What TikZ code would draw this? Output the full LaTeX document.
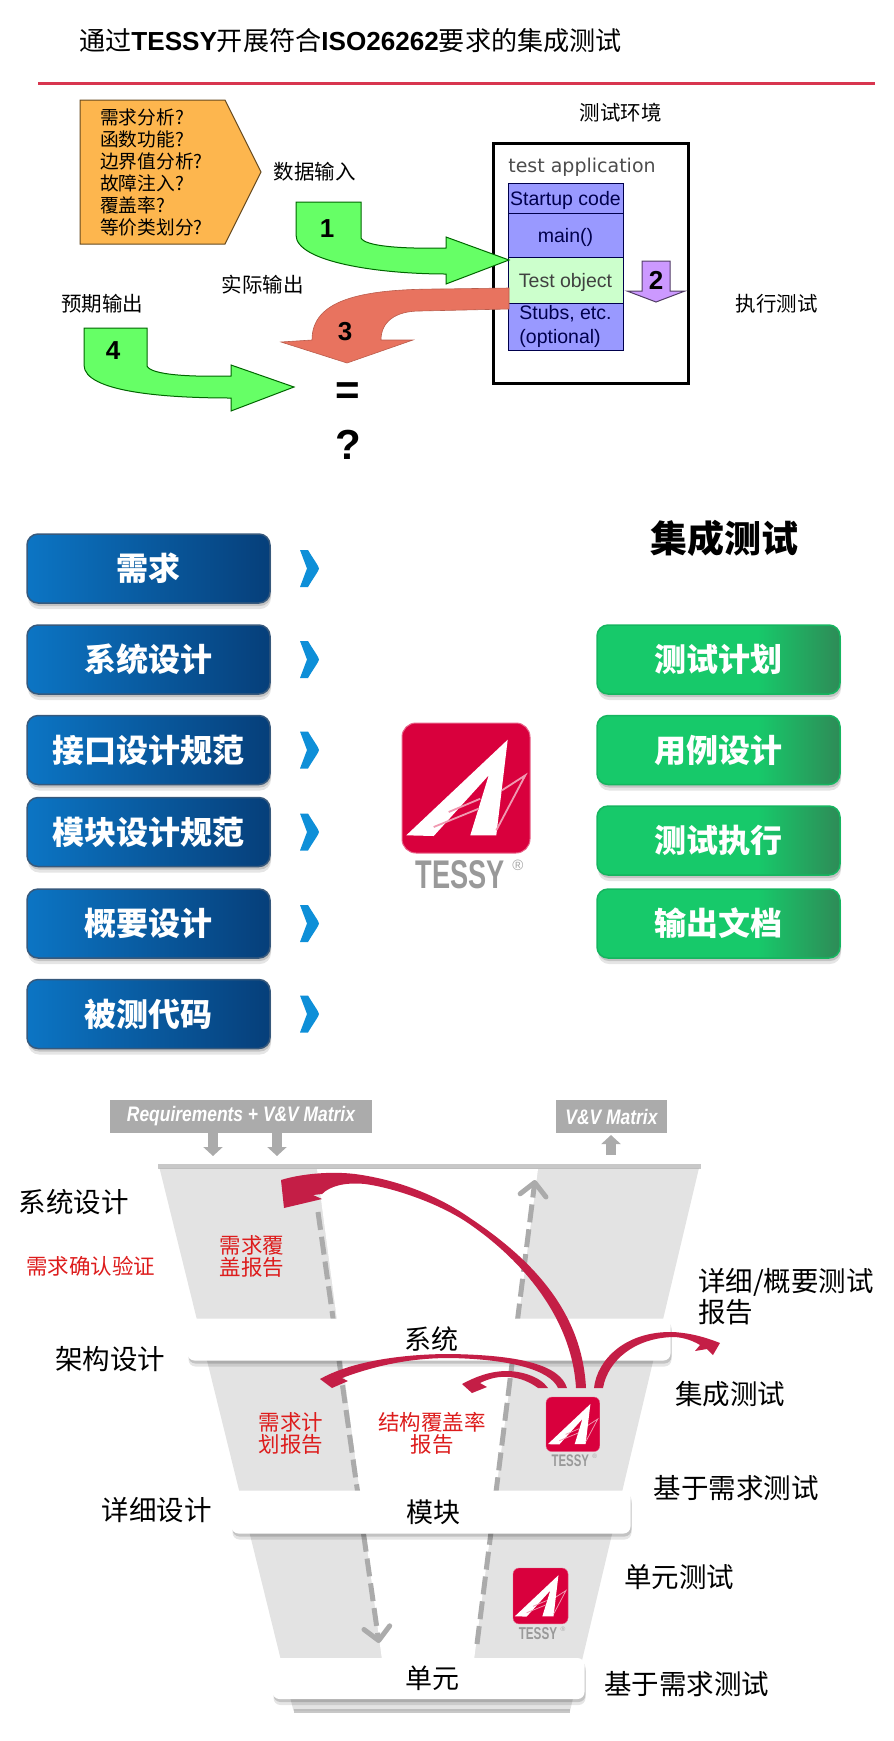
\documentclass[tikz,border=0pt]{standalone}
\usepackage{fontspec}
\setmainfont{Noto Sans CJK SC}
\newfontfamily\latinfont{Liberation Sans}
\newfontfamily\dejafont{DejaVu Sans}
\usepackage{tikz}
\usetikzlibrary{shapes.geometric}
\usetikzlibrary{arrows.meta}
\usetikzlibrary{shadows}
\definecolor{ruleRed}{HTML}{D8354F}
\definecolor{boxOrange}{HTML}{FDB64E}
\definecolor{arrowGreen}{HTML}{66FF66}
\definecolor{arrowSalmon}{HTML}{E8735F}
\definecolor{arrowViolet}{HTML}{CC99FF}
\definecolor{stackBlue}{HTML}{9999FF}
\definecolor{stackGreen}{HTML}{CCFFCC}
\definecolor{btnBlueA}{HTML}{0C75C4}
\definecolor{btnBlueB}{HTML}{063F7A}
\definecolor{btnGreenA}{HTML}{17C96A}
\definecolor{btnGreenB}{HTML}{2E8B57}
\definecolor{markBlue}{HTML}{0E8FD8}
\definecolor{funnelGrey}{HTML}{E3E3E3}
\definecolor{matrixGrey}{HTML}{ABABAB}
\definecolor{swooshRed}{HTML}{C41E46}
\definecolor{tessyRed}{HTML}{D9003D}
\definecolor{reportRed}{HTML}{DD1C1C}
\pgfdeclarehorizontalshading{greenbtn}{100bp}{color(0bp)=(btnGreenA); color(25bp)=(btnGreenA); color(58bp)=(btnGreenA); color(75bp)=(btnGreenB); color(100bp)=(btnGreenB)}
\tikzset{
	softshadow/.style={drop shadow={shadow xshift=1pt,shadow yshift=-6pt,opacity=.1,fill=black},drop shadow={shadow xshift=1pt,shadow yshift=-3pt,opacity=.15,fill=black}},
	bluebtn/.style={rectangle,rounded corners=11pt,minimum width=243pt,minimum height=69pt,draw=btnBlueB!60!gray,line width=1.5pt,left color=btnBlueA,right color=btnBlueB,softshadow,text=white,font=\fontsize{32}{32}\selectfont\bfseries},
	greenbtn/.style={rectangle,rounded corners=11pt,minimum width=243pt,minimum height=69pt,draw=btnGreenA!90!black,line width=1.5pt,shading=greenbtn,softshadow,text=white,font=\fontsize{32}{32}\selectfont\bfseries},
	stackcell/.style={rectangle,draw=black!70!blue,line width=1pt,fill=stackBlue,minimum width=115pt,text=black!70!blue,font=\latinfont\fontsize{19.5}{24}\selectfont,inner sep=0pt},
	stackline/.style={stackcell,text height=16pt,text depth=2pt},
	bigarrow/.style={draw=black!60!green,line width=1pt,fill=arrowGreen},
	digit/.style={font=\latinfont\bfseries\fontsize{26}{26}\selectfont,inner sep=0pt},
	toplabel/.style={font=\fontsize{20.5}{22}\selectfont,inner sep=0pt},
	vlabel/.style={font=\fontsize{27.5}{31}\selectfont,inner sep=0pt,align=left},
	redlabel/.style={font=\fontsize{21.5}{22}\selectfont,text=reportRed,inner sep=0pt,align=center},
	barnode/.style={rectangle,rounded corners=7pt,fill=white,softshadow,minimum height=42pt,font=\fontsize{27}{27}\selectfont},
	matrixbox/.style={rectangle,fill=matrixGrey,minimum height=33pt,text=white,font=\latinfont\bfseries\itshape\fontsize{21}{21}\selectfont,inner sep=0pt},
	matrixarrow/.style={matrixGrey,line width=10pt,-{Triangle[width=19pt,length=9pt]}},
	dashline/.style={matrixGrey,line width=5pt,dash pattern=on 18pt off 7pt,-{Straight Barb[length=13pt,width=26pt,line width=5pt,round]}},
	swoosh/.style={fill=swooshRed,draw=none},
	chevronmark/.pic={\fill[markBlue] (-9,-18.5) -- (-1,-18.5) .. controls (4,-10) and (10,-2) .. (10,0) .. controls (10,2) and (4,10) .. (-1,18.5) -- (-9,18.5) -- (-2,0) -- cycle;},
	tessylogo/.pic={
		\begin{scope}[scale=#1,transform shape]
		\draw[fill=tessyRed,draw=tessyRed!60!white,line width=#1*1pt,rounded corners=#1*14pt] (0,0) rectangle (128,130);
		\fill[white] (105.7,16.7) -- (4.3,112.3) -- (31.7,113) -- (86.7,52.3) -- (68.3,112.3) -- (94.3,112.3) -- cycle;
		\draw[tessyRed!40!white,line width=#1*1.8pt] (31.7,104) -- (76.7,85.7);
		\draw[tessyRed!40!white,line width=#1*1.8pt] (46.7,89) -- (78.3,75.7);
		\draw[tessyRed!40!white,line width=#1*1.8pt] (100,67.3) -- (123.3,52.3) -- (94.3,107.3);
		\node[text=black!40,font=\latinfont\bfseries\fontsize{40}{40}\selectfont,xscale=.68,inner sep=0pt] (-word) at (58,152) {TESSY};
		\node[text=black!35,font=\latinfont\fontsize{15}{15}\selectfont,inner sep=0pt] (-mark) at (116,142) {®};
		\end{scope}
	}
}

\begin{document}
\begin{tikzpicture}[x=1pt,y=-1pt]
	\useasboundingbox (0,0) rectangle (894,1741);
	% heading
	\node[anchor=west,inner sep=0pt,font=\fontsize{26.1}{26}\selectfont] (heading) at (79,41) {通过{\latinfont\bfseries TESSY}开展符合{\latinfont\bfseries ISO26262}要求的集成测试};
	\coordinate (ruleL) at (38,83);
	\coordinate (ruleR) at (875,83);
	\draw[ruleRed,line width=3pt] (ruleL) -- (ruleR);

	% test flow
	\draw[fill=boxOrange,draw=black!60!boxOrange,line width=1pt] (80,100) -- (225,100) -- (261,172) -- (225,244) -- (80,244) -- cycle;
	\node[anchor=west,inner sep=0pt,align=left,font=\fontsize{18.7}{22}\selectfont] (questions) at (100,172) {需求分析?\\函数功能?\\边界值分析?\\故障注入?\\覆盖率?\\等价类划分?};
	\node[toplabel] (inputlabel) at (314.5,172) {数据输入};
	\node[toplabel] (actuallabel) at (262.5,285) {实际输出};
	\node[toplabel] (expectlabel) at (102,304) {预期输出};
	\node[toplabel] (envlabel) at (620.5,113) {测试环境};
	\node[toplabel] (runlabel) at (776.5,304) {执行测试};
	\node[rectangle,draw=black,line width=3pt,minimum width=195pt,minimum height=240pt,inner sep=0pt] (testenv) at (590.5,263) {};
	\node[text=black!70,font=\dejafont\fontsize{19}{19}\selectfont,inner sep=0pt] (applabel) at (582,167) {test application};
	\node[stackline,minimum height=30pt] (startup) at (565.5,198) {Startup code};
	\node[stackline,minimum height=44pt] (mainfn) at (565.5,235) {main()};
	\node[stackline,minimum height=46pt,fill=stackGreen,text=black!75] (testobj) at (565.5,280) {Test object};
	\node[stackcell,minimum height=47pt,align=left] (stubs) at (565.5,326.5) {Stubs, etc.\\(optional)};
	\fill[bigarrow] (296,202) -- (361,202) -- (361,238) .. controls (365,246) and (399,249) .. (446,248) -- (446,237) -- (509,260) -- (446,284) -- (446,274) .. controls (379,274) and (296,262) .. (296,235) -- cycle;
	\fill[bigarrow] (84,328) -- (147,328) -- (147,366) .. controls (151,375) and (190,377) .. (231,376) -- (231,365) -- (294,387) -- (231,411) -- (231,398) .. controls (165,398) and (84,392) .. (84,365) -- cycle;
	\draw[fill=arrowSalmon,draw=arrowSalmon!80!black,line width=.6pt] (509,288) -- (440,289) .. controls (360,289) and (312,300) .. (312,340) -- (281,342) -- (347,363) -- (413,340) -- (381,340) .. controls (381,322) and (395,311) .. (420,311) -- (509,309) -- cycle;
	\draw[fill=arrowViolet,draw=black!60!arrowViolet,line width=1pt] (642,261) -- (670,261) -- (670,291) -- (685,291) -- (656,302) -- (627,291) -- (642,291) -- cycle;
	\node[digit] (numA) at (327,229) {1};
	\node[digit] (numB) at (656,280) {2};
	\node[digit] (numC) at (345,332) {3};
	\node[digit] (numD) at (113,351) {4};
	\node[font=\latinfont\bfseries\fontsize{42}{42}\selectfont,inner sep=0pt] (equalsign) at (348,394) {=};
	\node[font=\latinfont\bfseries\fontsize{42}{42}\selectfont,inner sep=0pt] (questionsign) at (348,445) {?};

	% activities and tessy
	\node[font=\fontsize{37}{37}\selectfont\bfseries,inner sep=0pt] (itlabel) at (724,538) {集成测试};
	\node[bluebtn] (reqbtn) at (148.5,568.5) {需求};
	\node[bluebtn] (sysbtn) at (148.5,659.5) {系统设计};
	\node[bluebtn] (ifbtn) at (148.5,750) {接口设计规范};
	\node[bluebtn] (modbtn) at (148.5,832) {模块设计规范};
	\node[bluebtn] (outlinebtn) at (148.5,923.5) {概要设计};
	\node[bluebtn] (codebtn) at (148.5,1014) {被测代码};
	\pic (markA) at (309,568.5) {chevronmark};
	\pic (markB) at (309,659.5) {chevronmark};
	\pic (markC) at (309,750) {chevronmark};
	\pic (markD) at (309,832) {chevronmark};
	\pic (markE) at (309,923.5) {chevronmark};
	\pic (markF) at (309,1014) {chevronmark};
	\node[greenbtn] (planbtn) at (718.5,659.5) {测试计划};
	\node[greenbtn] (casebtn) at (718.5,750) {用例设计};
	\node[greenbtn] (runbtn) at (718.5,840.5) {测试执行};
	\node[greenbtn] (docbtn) at (718.5,923.5) {输出文档};
	\pic (logoA) at (402,723) {tessylogo=1};

	% v model funnel
	\fill[funnelGrey] (159.5,1168) -- (699,1168) -- (570,1711) -- (293.5,1711) -- cycle;
	\fill[white] (317,1169) -- (538,1169) -- (474,1660) -- (382,1660) -- cycle;
	\coordinate (funnelTL) at (158,1166);
	\coordinate (funnelTR) at (701,1166);
	\coordinate (funnelBL) at (293.5,1711);
	\coordinate (funnelBR) at (570,1711);
	\draw[matrixGrey,line width=5pt,opacity=.65] (funnelTL) -- (funnelTR);
	\draw[matrixGrey,line width=4pt,opacity=.65] (funnelBL) -- (funnelBR);
	\node[matrixbox,minimum width=262pt] (reqmatrix) at (241,1116.5) {\scalebox{.83}[1]{Requirements + V\&V Matrix}};
	\node[matrixbox,minimum width=111pt] (vvmatrix) at (611.5,1116.5) {\scalebox{.83}[1]{V\&V Matrix}};
	\coordinate (downA) at (213,1156);
	\coordinate (downB) at (277,1156);
	\coordinate (upStart) at (611,1155);
	\coordinate (upEnd) at (611,1135);
	\draw[matrixarrow] (reqmatrix.south -| downA) -- (downA);
	\draw[matrixarrow] (reqmatrix.south -| downB) -- (downB);
	\draw[matrixarrow] (upStart) -- (upEnd);
	\coordinate (dashAstart) at (318,1212);
	\coordinate (dashAend) at (379,1643);
	\coordinate (dashBstart) at (477,1644);
	\coordinate (dashBend) at (535,1180);
	\draw[dashline] (dashAstart) -- (dashAend);
	\draw[dashline] (dashBstart) -- (dashBend);
	\node[barnode,minimum width=483pt] (sysbar) at (429,1339.5) {\hspace{5pt}系统};
	\node[barnode,minimum width=399pt,minimum height=43pt] (modbar) at (431,1512) {\hspace{5pt}模块};
	\node[barnode,minimum width=312pt,minimum height=41pt] (unitbar) at (428.5,1678.5) {\hspace{7pt}单元};

	% report arrows
	\fill[swoosh] (281,1180) .. controls (300,1174) and (330,1171) .. (355,1174) .. controls (400,1180) and (440,1197) .. (470,1218) .. controls (530,1258) and (582,1310) .. (586,1388) -- (576,1388) .. controls (572,1320) and (525,1262) .. (468,1223) .. controls (440,1204) and (395,1188) .. (365,1184) .. controls (345,1182) and (330,1186) .. (322,1194) -- (313,1195) -- (322,1199) -- (284,1208) -- cycle;
	\fill[swoosh] (594,1388) .. controls (597,1360) and (625,1331) .. (673,1332) .. controls (690,1333) and (705,1337) .. (720,1343) -- (713,1355) -- (707,1349) -- (695,1351) -- (700,1345) .. controls (690,1339) and (680,1337) .. (673,1337) .. controls (635,1338) and (608,1360) .. (603,1388) -- cycle;
	\fill[swoosh] (567,1388) .. controls (560,1365) and (520,1355) .. (450,1354) .. controls (400,1354) and (350,1362) .. (320,1379) -- (332,1388) -- (348,1381) -- (342,1378) .. controls (385,1362) and (420,1358) .. (450,1358) .. controls (510,1359) and (550,1370) .. (558,1388) -- cycle;
	\fill[swoosh] (548,1388) .. controls (540,1376) and (520,1371) .. (507,1371) .. controls (490,1371) and (475,1377) .. (462,1384) -- (472,1393) -- (487,1387) -- (480,1383) .. controls (490,1378) and (500,1376) .. (510,1377) .. controls (520,1378) and (530,1382) .. (538,1388) -- cycle;
	\pic (logoB) at (546,1397) {tessylogo=0.42};
	\pic (logoC) at (513,1568) {tessylogo=0.43};

	% labels round the funnel
	\node[vlabel] (sysdesign) at (74,1202) {系统设计};
	\node[vlabel] (archdesign) at (110,1359) {架构设计};
	\node[vlabel] (detaildesign) at (156.5,1510) {详细设计};
	\node[vlabel,anchor=west] (reportnote) at (698,1297) {详细/概要测试\\报告};
	\node[vlabel] (inttest) at (730,1394) {集成测试};
	\node[vlabel] (reqtestA) at (736,1488) {基于需求测试};
	\node[vlabel] (unittest) at (679,1577) {单元测试};
	\node[vlabel] (reqtestB) at (686.5,1684) {基于需求测试};
	\node[redlabel] (verifynote) at (91,1266) {需求确认验证};
	\node[redlabel] (coverreport) at (252,1256) {需求覆\\盖报告};
	\node[redlabel] (planreport) at (291,1433.5) {需求计\\划报告};
	\node[redlabel] (structreport) at (432,1433.5) {结构覆盖率\\报告};
\end{tikzpicture}
\end{document}
